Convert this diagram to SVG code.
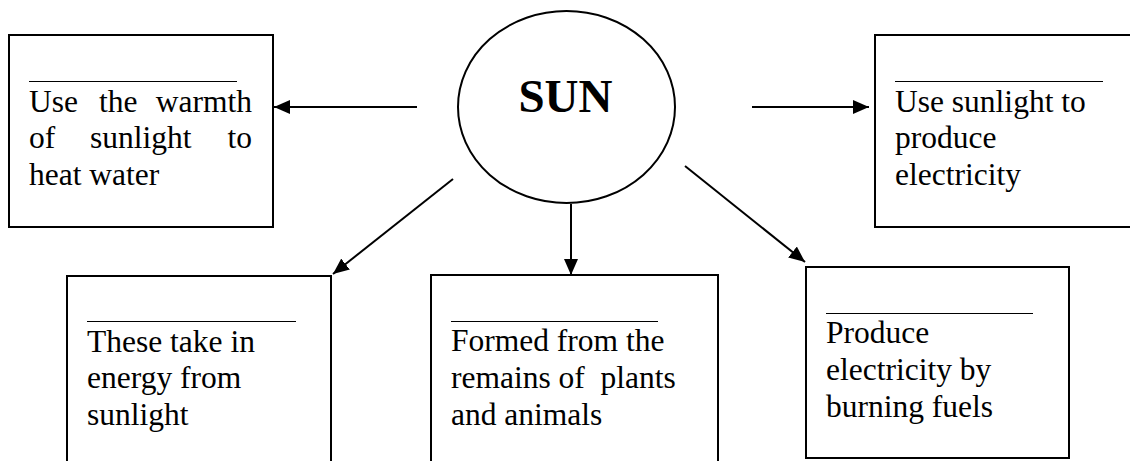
<svg xmlns="http://www.w3.org/2000/svg" width="1130" height="461" viewBox="0 0 1130 461">
<style>
.box{fill:#fff;stroke:#000;stroke-width:2}
.ul{stroke:#000;stroke-width:1}
.t{font-family:"Liberation Serif","Times New Roman",serif;font-size:31.5px;fill:#000}
.sun{font-family:"Liberation Serif","Times New Roman",serif;font-size:47px;font-weight:bold;fill:#000}
.c{stroke:#000;stroke-width:2;fill:none;marker-end:url(#ah)}
</style>
<defs>
<marker id="ah" markerUnits="userSpaceOnUse" markerWidth="17" markerHeight="14" refX="16" refY="7" orient="auto">
<path d="M0,0 L16,7 L0,14 z" fill="#000"/>
</marker>
</defs>
<rect width="1130" height="461" fill="#fff"/>
<g id="connectors">
<line class="c" x1="417" y1="107" x2="274" y2="107"/>
<line class="c" x1="752" y1="107" x2="869" y2="107"/>
<line class="c" x1="453" y1="179" x2="333" y2="274"/>
<line class="c" x1="571" y1="204" x2="571" y2="275"/>
<line class="c" x1="685" y1="166" x2="805" y2="262"/>
</g>
<g id="sun">
<ellipse cx="566.5" cy="107" rx="108.5" ry="96" fill="none" stroke="#000" stroke-width="2"/>
<text class="sun" x="565.5" y="112" text-anchor="middle">SUN</text>
</g>
<g id="heat-water">
<rect class="box" x="9" y="35" width="264" height="192"/>
<line class="ul" x1="29" y1="81.5" x2="237" y2="81.5"/>
<text class="t" x="29" y="112">Use</text>
<text class="t" x="99" y="112">the</text>
<text class="t" x="252" y="112" text-anchor="end">warmth</text>
<text class="t" x="29" y="148">of</text>
<text class="t" x="90" y="148">sunlight</text>
<text class="t" x="252" y="148" text-anchor="end">to</text>
<text class="t" x="29" y="185">heat water</text>
</g>
<g id="electricity-sunlight">
<rect class="box" x="875" y="35" width="260" height="192"/>
<line class="ul" x1="895" y1="81.5" x2="1103" y2="81.5"/>
<text class="t" x="895" y="112">Use sunlight to</text>
<text class="t" x="895" y="148">produce</text>
<text class="t" x="895" y="185">electricity</text>
</g>
<g id="plants">
<rect class="box" x="67" y="276" width="264" height="200"/>
<line class="ul" x1="87" y1="321.5" x2="296" y2="321.5"/>
<text class="t" x="87" y="352">These take in</text>
<text class="t" x="87" y="388">energy from</text>
<text class="t" x="87" y="425">sunlight</text>
</g>
<g id="fossil-fuels">
<rect class="box" x="431" y="275" width="287" height="200"/>
<line class="ul" x1="451" y1="321.5" x2="658" y2="321.5"/>
<text class="t" x="451" y="351">Formed from the</text>
<text class="t" x="451" y="388" xml:space="preserve" style="white-space:pre">remains of  plants</text>
<text class="t" x="451" y="425">and animals</text>
</g>
<g id="power-station">
<rect class="box" x="806" y="267" width="263" height="191"/>
<line class="ul" x1="826" y1="313.5" x2="1033" y2="313.5"/>
<text class="t" x="826" y="343">Produce</text>
<text class="t" x="826" y="380">electricity by</text>
<text class="t" x="826" y="417">burning fuels</text>
</g>
</svg>
